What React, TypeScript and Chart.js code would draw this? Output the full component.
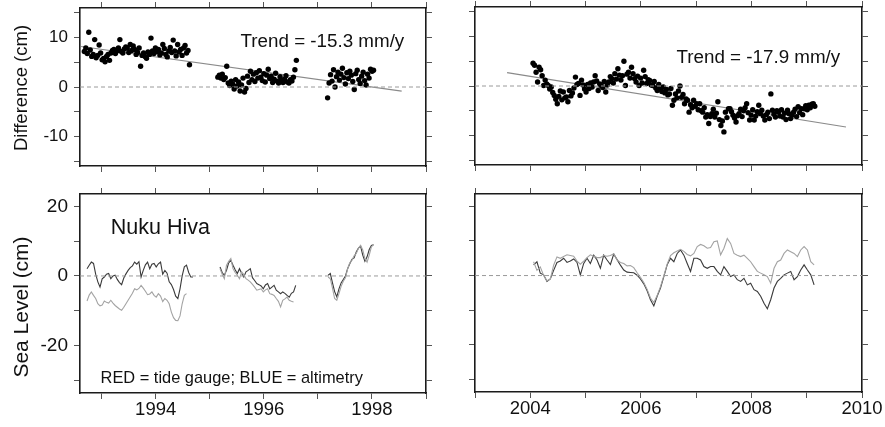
import React, { useEffect, useRef } from "react";
import { Chart, registerables } from "chart.js";

Chart.register(...registerables);

const FONT = '"Liberation Sans", Arial, Helvetica, sans-serif';

// ---------- Data (cm), 10-day altimetry sampling ----------
// Top-left: difference tide gauge - altimetry
const DIFF_L1_START = 1992.68;
const DIFF_L2_START = 1995.15;
const DIFF_L3_START = 1997.18;
const DIFF_STEP = 0.0274;
const diffL1 = [
  7.2, 7.9, 6.8, 11.1, 7.5, 6.2, 6.6, 9.6, 5.9, 6.4,
  8.5, 6.9, 5.5, 5.8, 5.1, 6.2, 6.6, 5.4, 6.9, 7.4,
  7.6, 6.8, 7.3, 7.9, 9.6, 7.2, 6.9, 7.7, 8.1, 7.9,
  7.0, 8.6, 7.4, 8.3, 7.6, 6.6, 7.0, 7.9, 4.2, 6.4,
  6.9, 6.2, 5.8, 7.1, 6.6, 9.9, 7.3, 6.8, 7.9, 7.2,
  7.6, 6.5, 6.9, 8.6, 7.8, 6.6, 6.1, 7.3, 8.0, 7.0,
  9.5, 7.3, 6.3, 8.6, 7.1, 7.6, 6.4, 7.9, 8.4, 6.9,
  7.4, 4.5,
];
const diffL2 = [
  2.0, 2.4, 1.8, 2.6, 1.5, 1.9, 4.2, 0.8, 0.3, 1.2,
  0.6, -0.4, 1.5, 0.2, 1.0, -0.8, 0.4, 1.8, -1.0, -0.3,
  2.2, 0.9, 3.2, 1.5, 2.6, 1.1, 2.9, 1.8, 3.3, 2.0,
  1.3, 2.7, 1.0, 2.4, 3.6, 1.7, 2.2, 0.9, 1.6, 2.8,
  1.2, 0.8, 2.1, 1.4, 0.9, 1.6, 2.3, 1.0, 0.8, 1.5,
  1.2, 2.0, 3.5, 5.4,
];
const diffL3 = [
  -2.2, 0.8, 2.5, 1.2, 3.5, 0.0, 2.1, 3.0, 1.4, 2.6,
  3.8, 1.9, 0.6, 2.9, 1.7, 3.2, 2.4, 1.1, -0.5, 2.7,
  3.4, 1.5, 0.7, 2.2, 3.0, 1.3, 0.4, 2.6, 1.8, 3.6,
  3.2, 3.4,
];
// Top-right
const DIFF_R_START = 2004.05;
const diffR = [
  4.6, 4.2, 2.8, 0.8, 3.8, 3.3, 2.1, 0.1, 1.2, 0.4,
  0.1, -0.6, -0.2, -1.3, -1.9, -2.7, -3.6, -2.1, -1.0, -2.8,
  -1.2, -2.4, -2.2, -3.2, -0.9, -2.0, -1.4, -0.4, 1.8, 0.3,
  0.5, -1.9, 1.2, 0.2, -0.6, -1.2, 0.3, -0.5, 0.6, -0.2,
  0.8, 2.1, 1.0, -0.9, 0.4, 0.1, -0.3, 0.9, -1.2, 0.2,
  0.8, 1.9, 1.5, 0.6, 2.5, 1.4, 3.5, 2.2, 1.2, 2.1,
  5.0, 0.1, 2.4, 2.8, 1.6, 3.8, 2.5, 1.5, 0.8, 2.0,
  0.1, 1.6, 0.6, 3.2, 1.9, 0.5, 1.3, 1.1, 0.2, 0.1,
  0.9, -0.4, -0.9, 0.3, -0.5, -1.1, -0.2, -1.4, -0.7, -1.8,
  -1.6, -0.5, -3.9, -2.9, -1.6, -2.4, -1.0, 0.0, -2.3, -1.7,
  -3.6, -2.6, -2.9, -5.3, -3.8, -4.4, -2.9, -4.1, -3.6, -4.8,
  -3.6, -5.0, -5.3, -4.4, -6.3, -5.8, -7.6, -6.2, -5.6, -4.7,
  -6.3, -5.5, -3.2, -6.8, -8.0, -7.1, -9.3, -5.3, -6.4, -4.6,
  -4.6, -5.2, -5.9, -6.5, -7.3, -6.0, -5.6, -4.7, -6.2, -5.0,
  -4.4, -3.6, -5.4, -6.9, -5.9, -4.8, -6.9, -6.1, -5.2, -3.9,
  -5.6, -4.9, -6.1, -6.9, -5.8, -5.3, -6.6, -1.6, -4.9, -5.7,
  -6.3, -5.0, -5.3, -6.1, -4.8, -6.3, -5.5, -6.8, -4.9, -5.6,
  -6.6, -5.9, -5.3, -4.7, -6.2, -4.2, -5.4, -4.6, -5.8, -4.6,
  -4.0, -4.8, -3.9, -4.4, -3.7, -3.6, -4.1,
];
// Linear trends
const trendLX = [1992.62, 1998.55];
const trendLY = [8.2, -0.85];
const trendRX = [2003.58, 2009.71];
const trendRY = [2.7, -8.3];

// Bottom-left sea level: tide gauge (dark) and altimetry (grey)
const SL_L_STEP = 0.04;
const SL_L1_START = 1992.73;
const SL_L2_START = 1995.19;
const SL_L3_START = 1997.19;
const tideL1 = [
  2.1, 3.1, 4.0, 3.6, 0.5, -1.7, -3.2, -0.8, -0.3, 0.5,
  0.7, -0.8, 0.0, 0.2, -1.0, -1.9, -2.5, -0.6, 0.6, 1.6,
  2.4, 2.9, 4.0, 3.4, 4.1, -0.3, 1.6, 3.2, 4.0, 2.1,
  3.4, 3.6, 2.6, 3.5, 4.0, 0.5, 1.6, 0.8, -1.7, -2.5,
  -3.9, -5.8, -6.5, -3.7, 0.0, 2.6, 3.1, 1.0, -0.3, -0.3,
];
const altL1 = [
  -7.2, -5.5, -4.6, -5.6, -6.5, -8.0, -8.6, -8.4, -7.2, -7.6,
  -7.8, -7.0, -7.8, -8.5, -9.0, -9.5, -9.9, -9.0, -8.0, -7.0,
  -6.0, -5.0, -3.7, -4.0, -3.6, -2.7, -3.5, -4.4, -5.4, -5.2,
  -4.6, -5.6, -6.1, -5.1, -5.8, -7.4, -6.5, -7.0, -8.0, -10.4,
  -12.0, -12.8, -12.9, -11.5, -8.0, -5.6, -5.1,
];
const tideL2 = [
  2.6, 1.0, 0.2, 1.6, 3.8, 4.5, 3.1, 1.8, 0.7, 2.1,
  0.8, -0.3, 1.2, 1.6, 2.1, -0.5, -1.3, -2.2, -2.5, -2.9,
  -3.7, -2.6, -2.2, -3.7, -3.2, -2.7, -4.1, -4.6, -5.1, -4.6,
  -5.0, -5.6, -6.1, -5.0, -4.6, -2.7,
];
const altL2 = [
  2.1, 0.5, -0.8, 3.1, 4.2, 5.0, 2.1, 1.0, 0.2, -0.8,
  1.2, 0.4, -0.8, -1.2, -1.7, -2.4, -3.2, -4.1, -3.9, -3.7,
  -4.6, -4.0, -3.7, -5.1, -5.3, -5.6, -6.5, -7.3, -8.9, -7.0,
  -6.6, -6.1, -7.0, -7.3, -7.5,
];
const tideL3 = [
  0.2, 0.7, -2.0, -4.5, -6.0, -3.7, -2.0, -1.0, 0.0, 2.1,
  3.5, 4.8, 5.2, 6.9, 8.0, 8.6, 6.0, 4.2, 5.5, 7.6, 8.8, 9.0,
];
const altL3 = [
  -0.3, -0.8, -3.5, -6.5, -7.0, -5.1, -3.0, -1.5, -0.5, 2.0,
  3.8, 4.5, 5.8, 6.5, 8.0, 8.8, 7.5, 5.0, 4.0, 6.0, 8.4, 9.0,
];
// Bottom-right sea level
const SL_R_START = 2004.06;
const SL_R_STEP = 0.0604;
const tideR = [
  3.1, 4.0, 0.7, 0.2, -1.7, -1.0, 1.5, 3.8, 4.2, 5.0,
  3.8, 4.2, 4.8, 3.8, 0.2, 3.5, 5.0, 3.5, 5.9, 4.5,
  2.1, 5.9, 4.5, 3.2, 6.2, 4.6, 3.0, 1.6, 1.0, 0.9,
  0.8, 0.1, -1.0, -2.4, -4.4, -7.0, -8.8, -6.0, -3.6, -0.3,
  3.1, 5.0, 4.0, 6.4, 7.4, 5.9, 3.5, 1.2, 5.0, 5.0,
  4.5, 2.6, 2.1, 2.6, 2.6, 1.2, 0.2, 2.6, 1.2, -0.3,
  0.2, -1.2, -1.7, -0.8, -2.7, -2.2, -4.1, -4.6, -6.0, -8.0,
  -9.6, -7.0, -3.6, -1.7, -0.8, 0.2, 0.7, 1.2, -1.2, -0.3,
  1.6, 3.1, 1.6, 0.2, -2.7,
];
const altR = [
  4.0, 1.5, 2.5, 0.0, -1.5, -1.0, 3.0, 5.4, 5.0, 5.5,
  6.0, 5.8, 5.6, 4.2, 3.3, 4.2, 5.2, 6.0, 5.6, 5.2,
  5.2, 5.8, 5.6, 5.8, 6.3, 4.5, 3.8, 3.5, 2.8, 2.9,
  2.3, 0.8, -0.5, -2.0, -4.0, -6.5, -7.8, -5.8, -3.2, 0.0,
  3.3, 5.8, 6.6, 7.1, 7.6, 7.0, 6.1, 5.7, 6.4, 8.4,
  9.0, 8.6, 7.9, 8.1, 9.8, 10.0, 6.0, 7.9, 10.7, 9.3,
  6.4, 5.9, 5.5, 5.9, 5.0, 4.0, 2.6, 1.2, 0.7, 0.2,
  -0.3, -2.2, 2.1, 4.0, 4.5, 6.4, 7.4, 6.9, 6.4, 5.5,
  7.4, 8.4, 7.4, 4.0, 3.1,
];

// Axis ranges / tick labels
const xRangeL = [1992.6, 1999];
const xRangeR = [2003, 2010];
const yRangeDiff = [-16, 16];
const yRangeSL = [-33.7, 23.6];

type Pt = { x: number; y: number };
const seq = (start: number, step: number, vals: number[]): Pt[] =>
  vals.map((v, i) => ({ x: start + i * step, y: v }));
const pair = (xs: number[], ys: number[]): Pt[] => xs.map((x, i) => ({ x, y: ys[i] }));

const DARK = "#3a3a3a";
const GREY = "#a3a3a3";

function axis(
  position: string,
  range: number[],
  step: number,
  size: number,
  showLabels: boolean,
  labelEvery: number,
  fontSize: number,
  padding: number
) {
  const horizontal = position === "top" || position === "bottom";
  return {
    type: "linear",
    position,
    min: range[0],
    max: range[1],
    afterFit: (s: any) => {
      if (horizontal) s.height = size;
      else s.width = size;
      s.paddingTop = 0;
      s.paddingBottom = 0;
      s.paddingLeft = 0;
      s.paddingRight = 0;
    },
    border: { display: true, color: "#1b1b1b", width: 1.6 },
    grid: { drawOnChartArea: false, drawTicks: true, tickLength: 6, color: "#555", lineWidth: 1 },
    ticks: {
      display: showLabels,
      stepSize: step,
      autoSkip: false,
      maxRotation: 0,
      minRotation: 0,
      includeBounds: false,
      padding,
      color: "#111",
      font: { family: FONT, size: fontSize },
      callback: (v: number) => (Math.abs(v % labelEvery) < 1e-6 ? String(v) : ""),
    },
  };
}

type TextSpec = { text: string; x: number; y: number; size: number };
type Spec = {
  left: number;
  top: number;
  width: number;
  height: number;
  axL: number;
  axR: number;
  axT: number;
  axB: number;
  xRange: number[];
  yRange: number[];
  yStep: number;
  yLabelEvery: number;
  yFont: number;
  showY: boolean;
  showX: boolean;
  datasets: any[];
  texts: TextSpec[];
  yTitle?: { text: string; cx: number; cy: number; size: number };
};

function zeroLine(xr: number[]) {
  return {
    data: pair(xr, [0, 0]),
    borderColor: "#9a9a9a",
    borderWidth: 1,
    borderDash: [4, 3],
    pointRadius: 0,
  };
}
function dots(start: number, vals: number[]) {
  return {
    data: seq(start, DIFF_STEP, vals),
    showLine: false,
    pointRadius: 2.7,
    pointBackgroundColor: "#000",
    pointBorderWidth: 0,
    borderColor: "#000",
  };
}
function line(start: number, step: number, vals: number[], color: string) {
  return {
    data: seq(start, step, vals),
    borderColor: color,
    borderWidth: 1.1,
    pointRadius: 0,
    tension: 0,
  };
}
function trend(xs: number[], ys: number[]) {
  return { data: pair(xs, ys), borderColor: "#8a8a8a", borderWidth: 1.2, pointRadius: 0 };
}

const specs: Spec[] = [
  {
    left: 0, top: 0, width: 440, height: 180, axL: 80, axR: 14, axT: 8, axB: 14,
    xRange: xRangeL, yRange: yRangeDiff, yStep: 5, yLabelEvery: 10, yFont: 17,
    showY: true, showX: false,
    datasets: [
      zeroLine(xRangeL),
      dots(DIFF_L1_START, diffL1),
      dots(DIFF_L2_START, diffL2),
      dots(DIFF_L3_START, diffL3),
      trend(trendLX, trendLY),
    ],
    texts: [{ text: "Trend = -15.3 mm/y", x: 1995.57, y: 8.2, size: 18.8 }],
    yTitle: { text: "Difference (cm)", cx: 22, cy: 88, size: 18.5 },
  },
  {
    left: 440, top: 0, width: 445, height: 180, axL: 35, axR: 23, axT: 7, axB: 15,
    xRange: xRangeR, yRange: yRangeDiff, yStep: 5, yLabelEvery: 10, yFont: 17,
    showY: false, showX: false,
    datasets: [zeroLine(xRangeR), dots(DIFF_R_START, diffR), trend(trendRX, trendRY)],
    texts: [{ text: "Trend = -17.9 mm/y", x: 2006.645, y: 4.7, size: 18.8 }],
  },
  {
    left: 0, top: 180, width: 440, height: 247, axL: 80, axR: 14, axT: 14, axB: 34,
    xRange: xRangeL, yRange: yRangeSL, yStep: 10, yLabelEvery: 20, yFont: 19,
    showY: true, showX: true,
    datasets: [
      zeroLine(xRangeL),
      line(SL_L1_START, SL_L_STEP, altL1, GREY),
      line(SL_L2_START, SL_L_STEP, altL2, GREY),
      line(SL_L3_START, SL_L_STEP, altL3, GREY),
      line(SL_L1_START, SL_L_STEP, tideL1, DARK),
      line(SL_L2_START, SL_L_STEP, tideL2, DARK),
      line(SL_L3_START, SL_L_STEP, tideL3, DARK),
    ],
    texts: [
      { text: "Nuku Hiva", x: 1993.17, y: 12.2, size: 21.5 },
      { text: "RED = tide gauge; BLUE = altimetry", x: 1992.98, y: -30.8, size: 16.4 },
    ],
    yTitle: { text: "Sea Level (cm)", cx: 22.5, cy: 127, size: 21 },
  },
  {
    left: 440, top: 180, width: 445, height: 247, axL: 35, axR: 23, axT: 14, axB: 35,
    xRange: xRangeR, yRange: yRangeSL, yStep: 10, yLabelEvery: 20, yFont: 19,
    showY: false, showX: true,
    datasets: [
      zeroLine(xRangeR),
      line(SL_R_START, SL_R_STEP, altR, GREY),
      line(SL_R_START, SL_R_STEP, tideR, DARK),
    ],
    texts: [],
  },
];

function Panel({ spec }: { spec: Spec }) {
  const ref = useRef<HTMLCanvasElement | null>(null);
  useEffect(() => {
    if (!ref.current) return;
    const textPlugin = {
      id: "panelText",
      afterDraw(chart: any) {
        const { ctx, scales } = chart;
        ctx.save();
        ctx.fillStyle = "#111";
        for (const t of spec.texts) {
          ctx.font = `${t.size}px ${FONT}`;
          ctx.textAlign = "left";
          ctx.textBaseline = "alphabetic";
          ctx.fillText(t.text, scales.x.getPixelForValue(t.x), scales.y.getPixelForValue(t.y));
        }
        if (spec.yTitle) {
          const yt = spec.yTitle;
          ctx.translate(yt.cx, yt.cy);
          ctx.rotate(-Math.PI / 2);
          ctx.font = `${yt.size}px ${FONT}`;
          ctx.textAlign = "center";
          ctx.textBaseline = "middle";
          ctx.fillText(yt.text, 0, 0);
        }
        ctx.restore();
      },
    };
    const chart = new Chart(ref.current, {
      type: "line",
      data: { datasets: spec.datasets },
      options: {
        responsive: false,
        maintainAspectRatio: false,
        animation: false,
        events: [],
        layout: { padding: 0 },
        plugins: { legend: { display: false }, tooltip: { enabled: false } },
        scales: {
          x: axis("bottom", spec.xRange, 1, spec.axB, spec.showX, 2, 18.5, 0),
          xt: axis("top", spec.xRange, 1, spec.axT, false, 2, 18.5, 0),
          y: axis("left", spec.yRange, spec.yStep, spec.axL, spec.showY, spec.yLabelEvery, spec.yFont, 6),
          yr: axis("right", spec.yRange, spec.yStep, spec.axR, false, spec.yLabelEvery, spec.yFont, 0),
        },
      } as any,
      plugins: [textPlugin],
    } as any);
    return () => chart.destroy();
  }, [spec]);
  return (
    <canvas
      ref={ref}
      width={spec.width}
      height={spec.height}
      style={{ position: "absolute", left: spec.left, top: spec.top, width: spec.width, height: spec.height, display: "block" }}
    />
  );
}

export default function App() {
  return (
    <div style={{ position: "absolute", left: 0, top: 0, width: 885, height: 427, background: "#fff", overflow: "hidden" }}>
      {specs.map((s, i) => (
        <Panel key={i} spec={s} />
      ))}
    </div>
  );
}
